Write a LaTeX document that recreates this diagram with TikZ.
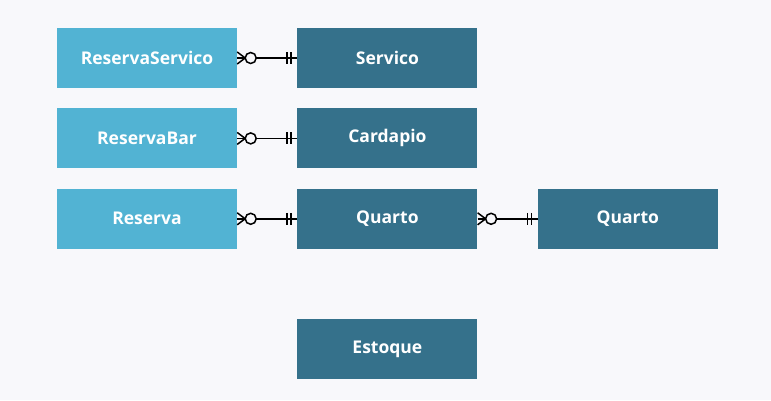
\documentclass[tikz,border=0pt]{standalone}
\usepackage{fontspec}
\setmainfont{Open Sans}
\usetikzlibrary{positioning}
\definecolor{lightent}{HTML}{52B3D3}
\definecolor{darkent}{HTML}{35718B}
\definecolor{bgcol}{HTML}{F8F8FB}

% many-to-one link between two entities
\newcommand{\manyone}[2]{%
  \draw[link] (#1.east) -- (#2.west);
  \draw[link] ([yshift=6pt]#1.east) -- ([xshift=8pt]#1.east) -- ([yshift=-6pt]#1.east);
  \draw[link, fill=bgcol] ([xshift=13.5pt]#1.east) circle (5.5pt);
  \draw[link] ([xshift=-10pt,yshift=6pt]#2.west) -- ([xshift=-10pt,yshift=-6pt]#2.west);
  \draw[link] ([xshift=-6pt,yshift=6pt]#2.west) -- ([xshift=-6pt,yshift=-6pt]#2.west);
}

\begin{document}
\begin{tikzpicture}[x=1pt,y=-1pt,node distance=20pt and 60pt,
  entity/.style={minimum width=180pt,minimum height=60pt,inner sep=0pt,text=white,font=\bfseries\fontsize{17.5}{21}\selectfont},
  light node/.style={entity,fill=lightent},
  dark node/.style={entity,fill=darkent},
  link/.style={line width=1.5pt,black}]

  \fill[bgcol] (0,0) rectangle (771,400);
  \useasboundingbox (0,0) rectangle (771,400);

  \node[light node] (resservico) at (147,58) {ReservaServico};
  \node[dark node] (servico) [right=of resservico] {Servico};
  \node[light node] (resbar) [below=of resservico] {ReservaBar};
  \node[dark node] (cardapio) [right=of resbar] {Cardapio};
  \node[light node] (reserva) [below=of resbar] {Reserva};
  \node[dark node] (quarto) [right=of reserva] {Quarto};
  \node[dark node] (quarto2) [right=of quarto] {Quarto};
  \node[dark node] (estoque) [below=70pt of quarto] {Estoque};

  \manyone{resservico}{servico}
  \manyone{resbar}{cardapio}
  \manyone{reserva}{quarto}
  \manyone{quarto}{quarto2}

\end{tikzpicture}
\end{document}
